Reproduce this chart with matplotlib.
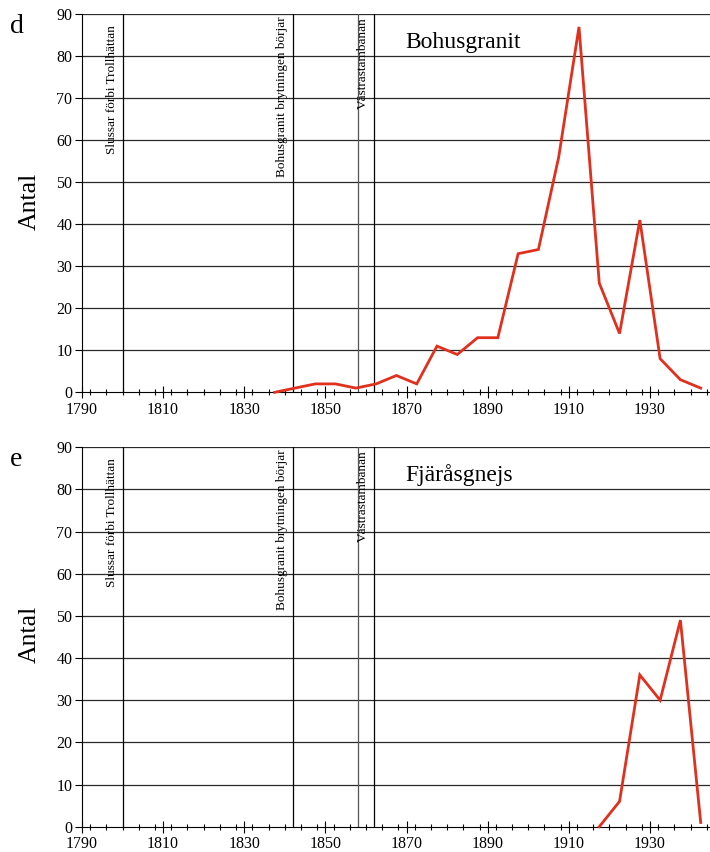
import matplotlib
matplotlib.use("Agg")
import matplotlib.pyplot as plt
from matplotlib.ticker import FixedLocator, MultipleLocator

plt.rcParams['font.family'] = ['Liberation Serif', 'DejaVu Serif']

# Data (5-year bins plotted at their midpoints)
years_d = [1837.5, 1842.5, 1847.5, 1852.5, 1857.5, 1862.5, 1867.5, 1872.5, 1877.5,
           1882.5, 1887.5, 1892.5, 1897.5, 1902.5, 1907.5, 1912.5, 1917.5, 1922.5,
           1927.5, 1932.5, 1937.5, 1942.5]
antal_d = [0, 1, 2, 2, 1, 2, 4, 2, 11, 9, 13, 13, 33, 34, 56, 87, 26, 14, 41, 8, 3, 1]

years_e = [1917.5, 1922.5, 1927.5, 1932.5, 1937.5, 1942.5]
antal_e = [0, 6, 36, 30, 49, 1]

xtick_years = [1790, 1810, 1830, 1850, 1870, 1890, 1910, 1930]

event_years = [1800, 1842, 1858, 1862]
event_labels = ["Slussar förbi Trollhättan", "Bohusgranit brytningen börjar", None, "Västrastambanan"]
event_label_top = [87.5, 89.4, None, 89.4]

panels = [
    ("d", "Bohusgranit", years_d, antal_d, 14.3, 392.3),
    ("e", "Fjäråsgnejs", years_e, antal_e, 447.3, 826.7),
]

W, H = 710, 852
fig = plt.figure(figsize=(W / 100, H / 100), dpi=100)

x0_px = 82.0
px_per_year = 4.057
xmax = 1790 + (W - x0_px) / px_per_year

for letter, name, yrs, vals, top_px, bot_px in panels:
    ax = fig.add_axes([x0_px / W, (H - bot_px) / H, (W - x0_px) / W, (bot_px - top_px) / H])
    ax.set_xlim(1790, xmax)
    ax.set_ylim(0, 90)
    for s in ("top", "right"):
        ax.spines[s].set_visible(False)
    ax.spines["left"].set_color("black")
    ax.spines["bottom"].set_color("black")
    ax.spines["left"].set_linewidth(0.8)
    ax.spines["bottom"].set_linewidth(0.8)

    ax.yaxis.set_major_locator(MultipleLocator(10))
    ax.xaxis.set_major_locator(FixedLocator(xtick_years))
    ax.xaxis.set_minor_locator(MultipleLocator(4))
    ax.tick_params(axis="y", direction="out", length=5, width=0.8, labelsize=11.5, pad=2)
    ax.tick_params(axis="x", which="major", direction="inout", length=8, width=0.8, labelsize=11.5, pad=3)
    ax.tick_params(axis="x", which="minor", direction="inout", length=5, width=0.8)

    for yv in range(10, 91, 10):
        ax.axhline(yv, color="#2a2a2a", lw=0.9, zorder=1)

    for ey, lab, ltop in zip(event_years, event_labels, event_label_top):
        ax.axvline(ey, color="#555555" if lab is None else "black", lw=0.9, zorder=1)
        if lab:
            ax.text(ey - 1.2, ltop, lab, rotation=90, ha="right", va="top",
                    fontsize=9.5, zorder=2)

    ax.plot(yrs, vals, color="#e0301e", lw=2.0, zorder=3, clip_on=False, solid_joinstyle="miter")

    ax.text(1869.6, 83.4, name, fontsize=17, ha="left", va="center")
    fig.text(10 / W, 1 - (top_px + 12) / H, letter, fontsize=20, ha="left", va="center")
    fig.text(30 / W, 1 - (top_px + 187) / H, "Antal", fontsize=18.5, rotation=90,
             ha="center", va="center")

fig.savefig("out.png", dpi=100)
